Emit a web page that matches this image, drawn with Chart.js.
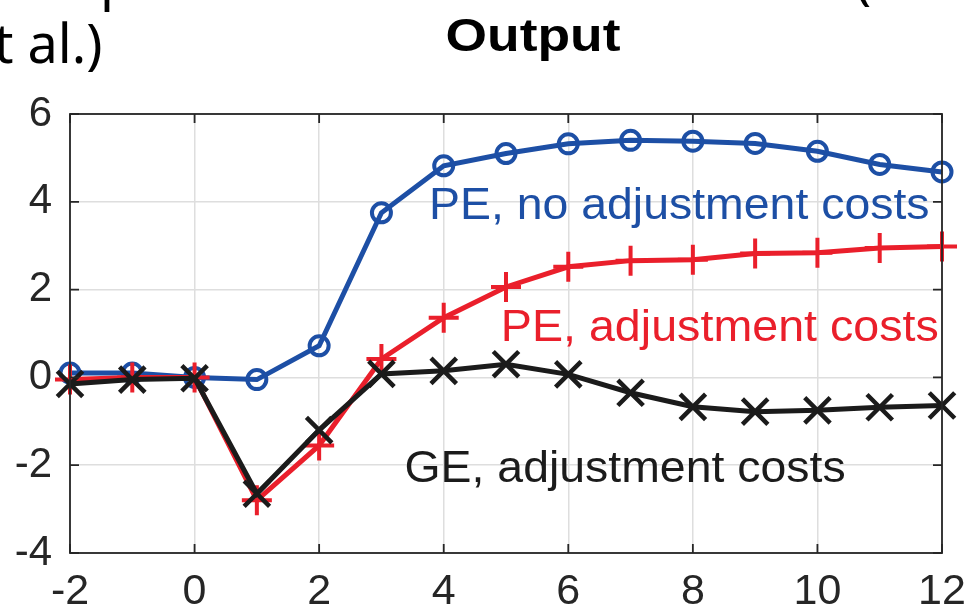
<!DOCTYPE html>
<html>
<head>
<meta charset="utf-8">
<script src="https://cdn.jsdelivr.net/npm/chart.js@4"></script>
<style>
  html, body { margin: 0; padding: 0; background: #fff; }
  #wrap { width: 966px; height: 613px; position: relative; }
</style>
</head>
<body>
<div id="wrap"><canvas id="outputChart" width="966" height="613"></canvas></div>
<script>
// horizon (quarters) and the three responses of output
const horizons = [-2, -1, 0, 1, 2, 3, 4, 5, 6, 7, 8, 9, 10, 11, 12];
const peNoAdj = [0.1, 0.1, 0.0, -0.05, 0.72, 3.75, 4.82, 5.1, 5.32, 5.4, 5.38, 5.33, 5.15, 4.85, 4.68];
const peAdj = [-0.05, 0.0, 0.0, -2.8, -1.55, 0.42, 1.36, 2.06, 2.52, 2.66, 2.68, 2.82, 2.84, 2.95, 2.98];
const geAdj = [-0.15, -0.05, -0.02, -2.65, -1.2, 0.08, 0.15, 0.3, 0.07, -0.35, -0.67, -0.78, -0.75, -0.68, -0.64];
const xTicks = [-2, 0, 2, 4, 6, 8, 10, 12];
const yTicks = [-4, -2, 0, 2, 4, 6];

const BLUE = "#1d4fa5";
const RED = "#ea1f2b";
const BLACK = "#1b1b1b";
const FONT = "'Liberation Sans', Arial, Helvetica, sans-serif";

const toPoints = (ys) => horizons.map((x, i) => ({ x, y: ys[i] }));

// text stretched sideways a little, the source figure is not square-pixeled
function drawText(ctx, str, x, y, align, sx) {
    ctx.save();
    ctx.translate(x, y);
    ctx.scale(sx, 1);
    ctx.textAlign = align;
    ctx.fillText(str, 0, 0);
    ctx.restore();
}

// box around the axes with inward ticks, MATLAB style
const boxPlugin = {
    id: "boxPlugin",
    afterDatasetsDraw(chart) {
        const { ctx, chartArea: a, scales: { x, y } } = chart;
        ctx.save();
        ctx.strokeStyle = "#262626";
        ctx.lineWidth = 1.8;
        ctx.strokeRect(a.left, a.top, a.right - a.left, a.bottom - a.top);
        const len = 9;
        ctx.beginPath();
        xTicks.forEach(v => {
            const px = x.getPixelForValue(v);
            ctx.moveTo(px, a.bottom); ctx.lineTo(px, a.bottom - len);
            ctx.moveTo(px, a.top); ctx.lineTo(px, a.top + len);
        });
        yTicks.forEach(v => {
            const py = y.getPixelForValue(v);
            ctx.moveTo(a.left, py); ctx.lineTo(a.left + len, py);
            ctx.moveTo(a.right, py); ctx.lineTo(a.right - len, py);
        });
        ctx.stroke();
        ctx.restore();
    },
    afterDraw(chart) {
        const { ctx, scales: { x, y } } = chart;
        ctx.save();
        ctx.textBaseline = "alphabetic";

        // series labels
        ctx.font = "44px " + FONT;
        ctx.fillStyle = BLUE;
        drawText(ctx, "PE, no adjustment costs", x.getPixelForValue(11.8), y.getPixelForValue(3.6), "right", 1.055);
        ctx.fillStyle = RED;
        drawText(ctx, "PE, adjustment costs", x.getPixelForValue(11.95), y.getPixelForValue(0.82), "right", 1.06);
        ctx.fillStyle = BLACK;
        drawText(ctx, "GE, adjustment costs", x.getPixelForValue(3.37), y.getPixelForValue(-2.38), "left", 1.055);

        // panel title
        ctx.fillStyle = "#000";
        ctx.font = "bold 46px " + FONT;
        drawText(ctx, "Output", 533, 51, "center", 1.16);

        // surrounding slide text (cut off)
        ctx.font = "54px 'Noto Sans', 'Open Sans', sans-serif";
        drawText(ctx, "t al.)", -6, 63, "left", 1);
        drawText(ctx, "p", 100, -1, "left", 1);
        drawText(ctx, "(", 855, -2, "left", 1);
        ctx.restore();
    }
};

new Chart(document.getElementById("outputChart"), {
    type: "line",
    data: {
        datasets: [
            {
                label: "PE, no adjustment costs",
                data: toPoints(peNoAdj),
                borderColor: BLUE,
                borderWidth: 5,
                pointStyle: "circle",
                pointRadius: 9.5,
                pointBorderWidth: 4,
                pointBorderColor: BLUE,
                pointBackgroundColor: "rgba(0,0,0,0)",
                tension: 0,
                clip: false,
                order: 3
            },
            {
                label: "PE, adjustment costs",
                data: toPoints(peAdj),
                borderColor: RED,
                borderWidth: 5,
                pointStyle: "cross",
                pointRadius: 15,
                pointBorderWidth: 4,
                pointBorderColor: RED,
                tension: 0,
                clip: false,
                order: 2
            },
            {
                label: "GE, adjustment costs",
                data: toPoints(geAdj),
                borderColor: BLACK,
                borderWidth: 5,
                pointStyle: "crossRot",
                pointRadius: 18,
                pointBorderWidth: 4.5,
                pointBorderColor: BLACK,
                tension: 0,
                clip: false,
                order: 1
            }
        ]
    },
    options: {
        responsive: false,
        animation: false,
        layout: { padding: { top: 114, right: 24, left: 0, bottom: 0 } },
        plugins: {
            legend: { display: false },
            tooltip: { enabled: false }
        },
        scales: {
            x: {
                type: "linear",
                min: -2,
                max: 12,
                afterFit: (s) => { s.height = 60; s.paddingLeft = 0; s.paddingRight = 0; },
                afterBuildTicks: (s) => { s.ticks = xTicks.map(v => ({ value: v })); },
                grid: { color: "#dedede", lineWidth: 1.5, drawTicks: false },
                border: { display: false },
                ticks: {
                    color: "#262626",
                    padding: 13,
                    maxRotation: 0,
                    font: { family: FONT, size: 43 }
                }
            },
            y: {
                min: -4,
                max: 6,
                afterFit: (s) => { s.width = 70; s.paddingTop = 0; s.paddingBottom = 0; },
                afterBuildTicks: (s) => { s.ticks = yTicks.map(v => ({ value: v })); },
                grid: { color: "#dedede", lineWidth: 1.5, drawTicks: false },
                border: { display: false },
                ticks: {
                    color: "#262626",
                    padding: 18,
                    font: { family: FONT, size: 42 }
                }
            }
        }
    },
    plugins: [boxPlugin]
});
</script>
</body>
</html>
